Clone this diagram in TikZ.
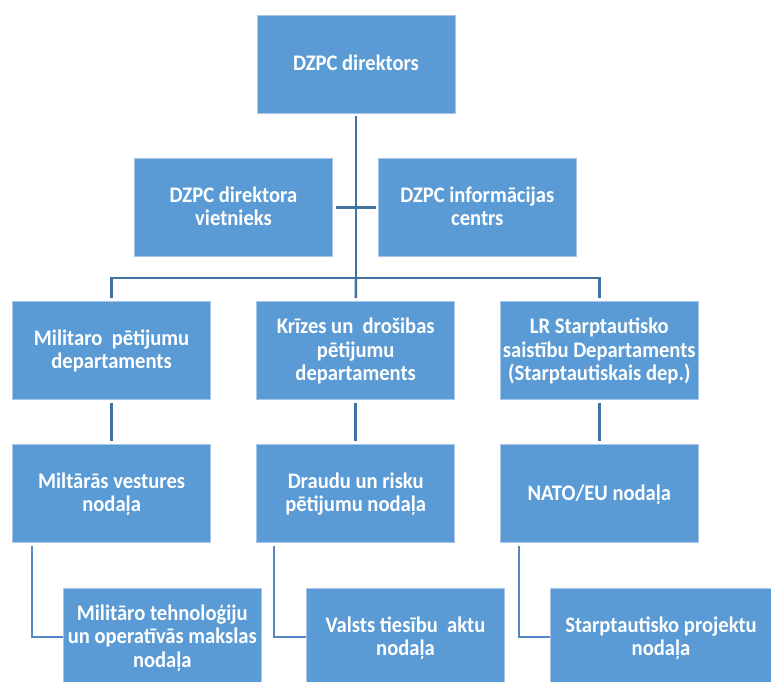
\documentclass[tikz,border=0pt]{standalone}
\usepackage{fontspec}
\usepackage{graphicx}
\setmainfont{Carlito}
\definecolor{boxblue}{RGB}{91,155,213}
\definecolor{boxedge}{RGB}{168,198,234}
\definecolor{linedark}{RGB}{65,113,156}
\definecolor{linelight}{RGB}{84,136,196}
\newcommand{\lbl}[1]{\raisebox{-2pt}[\height][\depth]{\scalebox{1}[1.08]{\begin{tabular}{@{}c@{}}#1\end{tabular}}}}
\tikzset{
  orgbox/.style={rectangle, fill=boxblue, draw=boxedge, line width=1pt,
    minimum width=198pt, minimum height=98pt, inner sep=0pt,
    align=center, text=white, font=\fontsize{20.6}{21.6}\selectfont\bfseries},
  conn/.style={draw=linedark, line width=2.5pt},
  lconn/.style={draw=linelight, line width=2.3pt},
}
\begin{document}
\begin{tikzpicture}[x=1pt,y=-1pt]
\useasboundingbox (0,0) rectangle (771,681);
\begin{scope}
\clip (0,0) rectangle (771,681);
% boxes
\node[orgbox] (top) at (356,64) {\lbl{DZPC direktors}};
\node[orgbox] (dep) at (233.5,207.5) {\lbl{DZPC direktora\\vietnieks}};
\node[orgbox] (info) at (477.3,207.5) {\lbl{DZPC informācijas\\centrs}};
\node[orgbox] (r2l) at (111.6,350.5) {\lbl{Militaro\ \ pētijumu\\departaments}};
\node[orgbox] (r2m) at (355.7,350.5) {\lbl{Krīzes un\ \ drošibas\\pētijumu\\departaments}};
\node[orgbox] (r2r) at (599.3,350.5) {\lbl{LR Starptautisko\\saistību Departaments\\(Starptautiskais dep.)}};
\node[orgbox] (r3l) at (111.6,493.4) {\lbl{Miltārās vestures\\nodaļa}};
\node[orgbox] (r3m) at (355.7,493.4) {\lbl{Draudu un risku\\pētijumu nodaļa}};
\node[orgbox] (r3r) at (599.3,493.4) {\lbl{NATO/EU nodaļa}};
\node[orgbox] (r4l) at (162.3,637) {\lbl{Militāro tehnoloģiju\\un operatīvās makslas\\nodaļa}};
\node[orgbox] (r4m) at (405.5,637) {\lbl{Valsts tiesību\ \ aktu\\nodaļa}};
\node[orgbox, minimum width=222pt] (r4r) at (661,637) {\lbl{Starptautisko projektu\\nodaļa}};
% connectors
\coordinate (bus) at (356,278);
\draw[conn, shorten <=2.5pt] (top.south) -- (bus);
\draw[conn, shorten <=2.5pt, shorten >=2pt] (dep.east) -- (info.west);
\draw[conn, shorten <=3pt, shorten >=3pt] (r2l.north) -- (r2l.north |- bus) -- (r2r.north |- bus) -- (r2r.north);
\draw[conn, shorten <=3pt] (r2m.north) -- (bus);
\draw[conn, shorten <=2.5pt, shorten >=2.5pt] (r2l.south) -- (r3l.north);
\draw[conn, shorten <=2.5pt, shorten >=2.5pt] (r2m.south) -- (r3m.north);
\draw[conn, shorten <=2.5pt, shorten >=2.5pt] (r2r.south) -- (r3r.north);
\draw[lconn] ([shift={(20pt,-3pt)}]r3l.south west) |- (r4l.west);
\draw[lconn] ([shift={(17.5pt,-3pt)}]r3m.south west) |- (r4m.west);
\draw[lconn] ([shift={(19pt,-3pt)}]r3r.south west) |- (r4r.west);
\end{scope}
\end{tikzpicture}
\end{document}
